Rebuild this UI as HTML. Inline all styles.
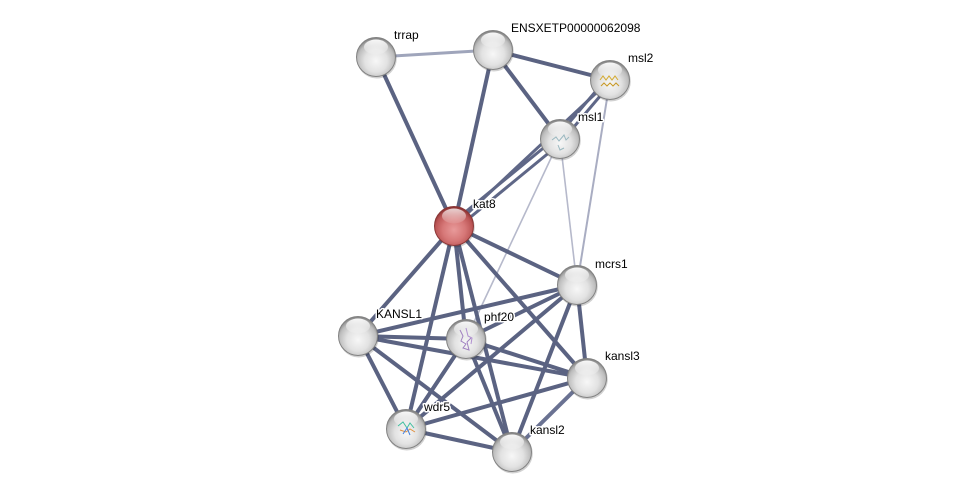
<!DOCTYPE html>
<html><head><meta charset="utf-8"><style>
html,body{margin:0;padding:0;background:#fff;}
svg{display:block;}
text{font-family:"Liberation Sans",Arial,sans-serif;font-size:12px;fill:#000;paint-order:stroke;stroke:#fff;stroke-width:3px;stroke-linejoin:round;}
</style></head><body>
<svg width="975" height="496" viewBox="0 0 975 496" xmlns="http://www.w3.org/2000/svg">
<defs>
<radialGradient id="gg" cx="50%" cy="60%" r="58%">
<stop offset="0" stop-color="#f7f7f7"/>
<stop offset="0.5" stop-color="#e2e2e2"/>
<stop offset="0.82" stop-color="#bdbdbd"/>
<stop offset="1" stop-color="#858585"/>
</radialGradient>
<radialGradient id="rg" cx="50%" cy="60%" r="58%">
<stop offset="0" stop-color="#e89a9a"/>
<stop offset="0.5" stop-color="#d67777"/>
<stop offset="0.82" stop-color="#bb5555"/>
<stop offset="1" stop-color="#8a3232"/>
</radialGradient>
<linearGradient id="hl" x1="0" y1="0" x2="0" y2="1">
<stop offset="0" stop-color="#fff" stop-opacity="0.95"/>
<stop offset="1" stop-color="#fff" stop-opacity="0.1"/>
</linearGradient>
<g id="gnode">
<circle cx="0.8" cy="1.5" r="20" fill="#000" opacity="0.18"/>
<circle r="19.5" fill="url(#gg)" stroke="#828282" stroke-width="1"/>
<ellipse cx="0" cy="-10" rx="12" ry="7.5" fill="url(#hl)"/>
</g>
<g id="rnode">
<circle cx="0.8" cy="1.5" r="20" fill="#000" opacity="0.18"/>
<circle r="19.5" fill="url(#rg)" stroke="#8a3636" stroke-width="1"/>
<ellipse cx="0" cy="-10" rx="12" ry="7.5" fill="url(#hl)" opacity="0.8"/>
</g>
</defs>

<!-- light edges -->
<g stroke-linecap="butt" fill="none">
<line x1="376" y1="57" x2="493" y2="50" stroke="#9fa5bb" stroke-width="3"/>
<line x1="610" y1="80" x2="577" y2="285" stroke="#a9adc2" stroke-width="2"/>
<line x1="560" y1="139" x2="577" y2="285" stroke="#b6b9cb" stroke-width="1.6"/>
<line x1="560" y1="139" x2="466" y2="339" stroke="#b6b9cb" stroke-width="1.6"/>
</g>

<!-- bundled edges -->
<g stroke="#5f6787" stroke-width="3" fill="none">
<line x1="612" y1="82" x2="562" y2="141"/>
<line x1="607" y1="78" x2="557" y2="137"/>
<line x1="456" y1="229" x2="562" y2="142"/>
<line x1="452" y1="223" x2="558" y2="136"/>
<line x1="454" y1="226" x2="610" y2="80"/>
</g>

<!-- dark edges -->
<g stroke="#5b6382" stroke-width="4" fill="none">
<line x1="376" y1="57" x2="454" y2="226"/>
<line x1="493" y1="50" x2="454" y2="226"/>
<line x1="493" y1="50" x2="610" y2="80"/>
<line x1="493" y1="50" x2="560" y2="139"/>
<line x1="454" y1="226" x2="577" y2="285"/>
<line x1="454" y1="226" x2="358" y2="336"/>
<line x1="454" y1="226" x2="466" y2="339"/>
<line x1="454" y1="226" x2="406" y2="429"/>
<line x1="454" y1="226" x2="512" y2="452"/>
<line x1="454" y1="226" x2="587" y2="378"/>
<line x1="577" y1="285" x2="358" y2="336"/>
<line x1="577" y1="285" x2="466" y2="339"/>
<line x1="577" y1="285" x2="406" y2="429"/>
<line x1="577" y1="285" x2="512" y2="452"/>
<line x1="577" y1="285" x2="587" y2="378"/>
<line x1="358" y1="336" x2="466" y2="339"/>
<line x1="358" y1="336" x2="587" y2="378"/>
<line x1="358" y1="336" x2="406" y2="429"/>
<line x1="358" y1="336" x2="512" y2="452"/>
<line x1="466" y1="339" x2="406" y2="429"/>
<line x1="466" y1="339" x2="512" y2="452"/>
<line x1="466" y1="339" x2="587" y2="378"/>
<line x1="406" y1="429" x2="587" y2="378"/>
<line x1="406" y1="429" x2="512" y2="452"/>
<line x1="512" y1="452" x2="587" y2="378" stroke="#6a7292"/>
</g>

<!-- nodes -->
<use href="#gnode" x="376" y="57"/>
<use href="#gnode" x="493" y="50"/>
<use href="#gnode" x="610" y="80"/>
<use href="#gnode" x="560" y="139"/>
<use href="#rnode" x="454" y="226"/>
<use href="#gnode" x="577" y="285"/>
<use href="#gnode" x="358" y="336"/>
<use href="#gnode" x="466" y="339"/>
<use href="#gnode" x="587" y="378"/>
<use href="#gnode" x="406" y="429"/>
<use href="#gnode" x="512" y="452"/>

<!-- structure thumbnails -->
<g fill="none" stroke-width="1">
<path d="M600 80 l3 -4 l3 4 l3 -4 l3 4 l3 -4 l3 4" stroke="#d4aa30"/>
<path d="M601 86 l3 -3 l3 3 l3 -3 l3 3 l3 -3 l3 3" stroke="#c89a28"/>
<path d="M552 140 l4 -3 l3 4 l5 -6 l2 5 l3 -3" stroke="#9ab8c0"/>
<path d="M558 145 l2 5 l4 -2" stroke="#9ab8c0"/>
<path d="M460 330 l3 6 l-2 5 l5 3 l-3 4 l6 2 l-2 -8 l4 -4" stroke="#a080c0"/>
<path d="M466 328 l2 8 l4 2 l-1 6" stroke="#b090d0"/>
<path d="M398 426 l5 -4 l4 6 l3 -5 l4 5" stroke="#40c0a0"/>
<path d="M400 430 l6 2 l4 -3 l5 3" stroke="#e09040"/>
<path d="M403 434 l4 -6 l3 7" stroke="#4080e0"/>
</g>

<!-- labels -->
<text x="394" y="39">trrap</text>
<text x="511" y="32">ENSXETP00000062098</text>
<text x="628" y="62">msl2</text>
<text x="578" y="121">msl1</text>
<text x="473" y="208">kat8</text>
<text x="595" y="268">mcrs1</text>
<text x="376" y="318">KANSL1</text>
<text x="484" y="321">phf20</text>
<text x="605" y="360">kansl3</text>
<text x="424" y="411">wdr5</text>
<text x="530" y="434">kansl2</text>
</svg>
</body></html>
